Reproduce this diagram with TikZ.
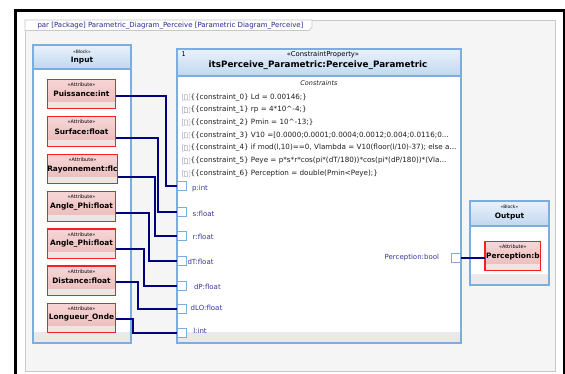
\documentclass[tikz,border=0pt]{standalone}
\usepackage{fontspec}
\setmainfont{DejaVu Sans}
\usetikzlibrary{shadings}
\definecolor{navyc}{RGB}{0,0,128}
\definecolor{portlbl}{RGB}{55,55,160}
\definecolor{blueb}{RGB}{125,172,222}
\definecolor{hdtop}{RGB}{234,242,251}
\definecolor{hdbot}{RGB}{192,215,240}
\definecolor{attrred}{RGB}{250,30,30}
\definecolor{attrtop}{RGB}{247,214,214}
\definecolor{attrbot}{RGB}{234,184,184}
\definecolor{attrband}{RGB}{238,228,228}
\definecolor{framebg}{RGB}{245,245,245}
\definecolor{frameln}{RGB}{200,200,200}
\definecolor{bodyshade}{RGB}{232,232,232}
\definecolor{icongray}{RGB}{175,175,175}
\definecolor{tabtext}{RGB}{40,40,150}
\definecolor{ctext}{RGB}{30,30,30}
\tikzset{
  every node/.style={inner sep=0pt, outer sep=0pt},
  blockbody/.style={draw=blueb, line width=1.3pt, fill=white, anchor=north west,
    path picture={\shade[top color=white, bottom color=bodyshade]
      ([yshift=11pt]path picture bounding box.south west) rectangle (path picture bounding box.south east);}},
  blockhead/.style={draw=blueb, line width=1.3pt, top color=hdtop, bottom color=hdbot, anchor=north west},
  stereo/.style={font=\fontsize{4.5}{5}\selectfont, text=black},
  blockname/.style={font=\fontsize{7.4}{8}\selectfont\bfseries, text=black},
  attrbox/.style={draw=attrred, line width=1.2pt, top color=attrtop, bottom color=attrbot,
    minimum width=68.4pt, minimum height=29.5pt, anchor=north west,
    font=\fontsize{7.4}{8}\selectfont\bfseries,
    path picture={\fill[attrband] ([yshift=6.5pt]path picture bounding box.south west) rectangle (path picture bounding box.south east);},
    label={[font=\fontsize{4.9}{5}\selectfont, anchor=center, yshift=-5.2pt]north:«Attribute»}},
  portbox/.style={draw=blueb, line width=0.9pt, fill=white, minimum size=9pt, anchor=center},
  portlabel/.style={text=portlbl, font=\fontsize{7}{8}\selectfont},
  cline/.style={anchor=west, text=ctext, font=\fontsize{7.2}{9}\selectfont},
  conn/.style={draw=navyc, line width=2pt},
  docicon/.pic={
    \draw[icongray, line width=0.45pt, rounded corners=0.8pt] (1.3,-3.3) -- (0,-3.3) -- (0,3.3) -- (1.3,3.3);
    \draw[icongray, line width=0.45pt, rounded corners=0.8pt] (6.2,-3.3) -- (7.5,-3.3) -- (7.5,3.3) -- (6.2,3.3);
    \draw[icongray, line width=0.45pt] (2,2.6) -- (2,-2.6) -- (4.3,-2.6) -- (5.4,-1.5) -- (5.4,2.6) -- cycle;
  }
}
\begin{document}
\begin{tikzpicture}[x=1pt,y=-1pt]
\useasboundingbox (0,0) rectangle (565,374);
\fill[white] (0,0) rectangle (565,374);
% outer black frame
\draw[black, line width=2.5pt] (15.3,10.4) rectangle (563.8,392);
% diagram frame
\draw[frameln, fill=framebg, line width=0.8pt] (25,20) rectangle (555.7,371);
\draw[frameln, fill=white, line width=0.8pt] (25,20) -- (312,20) -- (312,27) -- (309,30.5) -- (25,30.5) -- cycle;
\node[text=tabtext, font=\fontsize{7}{8}\selectfont, anchor=west] (title) at (37.5,25.4)
  {par [Package] Parametric\_Diagram\_Perceive [Parametric Diagram\_Perceive]};

% Input block
\node[blockbody, minimum width=98pt, minimum height=298pt] (inblk) at (33,45) {};
\node[blockhead, minimum width=98pt, minimum height=24pt] (inhd) at (33,45) {};
\node[stereo] (inst) at (82,51.8) {«Block»};
\node[blockname] (inname) at (82,60.5) {Input};

% Constraint block
\node[blockbody, minimum width=284pt, minimum height=294pt] (cblk) at (177,49) {};
\node[blockhead, minimum width=284pt, minimum height=27pt] (chd) at (177,49) {};
\node[font=\fontsize{6.5}{7}\selectfont, anchor=west] (cmult) at (181.5,54.5) {1};
\node[font=\fontsize{6.8}{7}\selectfont] (cst) at (323,54.5) {«ConstraintProperty»};
\node[font=\fontsize{8.8}{10}\selectfont\bfseries] (cname) at (318,65.5) {itsPerceive\_Parametric:Perceive\_Parametric};
\node[font=\fontsize{6.5}{7}\selectfont\itshape, text=ctext] (chead) at (319,83) {Constraints};

\foreach \yy in {97.3,110,122.5,135.3,148,161,173.7} { \pic at (182.3,\yy) {docicon}; }
\node[cline] (c0) at (190.5,97.3) {\{\{constraint\_0\} Ld = 0.00146;\}};
\node[cline] (c1) at (190.5,110) {\{\{constraint\_1\} rp = 4*10\textasciicircum-4;\}};
\node[cline] (c2) at (190.5,122.5) {\{\{constraint\_2\} Pmin = 10\textasciicircum-13;\}};
\node[cline] (c3) at (190.5,135.3) {\{\{constraint\_3\} V10 =[0.0000;0.0001;0.0004;0.0012;0.004;0.0116;0...};
\node[cline] (c4) at (190.5,148) {\{\{constraint\_4\} if mod(l,10)==0, Vlambda = V10(floor(l/10)-37); else a...};
\node[cline] (c5) at (190.5,161) {\{\{constraint\_5\} Peye = p*s*r*cos(pi*(dT/180))*cos(pi*(dP/180))*(Vla...};
\node[cline] (c6) at (190.5,173.7) {\{\{constraint\_6\} Perception = double(Pmin<Peye);\}};

% ports
\node[portbox] (pp) at (181.5,186) {};
\node[portbox] (ps) at (181.5,212) {};
\node[portbox] (pr) at (181.5,235.7) {};
\node[portbox] (pdT) at (181.5,261) {};
\node[portbox] (pdP) at (181.5,286) {};
\node[portbox] (pdLO) at (181.5,308.7) {};
\node[portbox] (pl) at (181.5,333) {};
\node[portbox] (pout) at (456.2,258) {};
\node[portlabel, anchor=west] (lp) at (192,188.3) {p:int};
\node[portlabel, anchor=west] (ls) at (192.7,213.5) {s:float};
\node[portlabel, anchor=west] (lr) at (192.7,237) {r:float};
\node[portlabel, anchor=west] (ldT) at (187.5,262) {dT:float};
\node[portlabel, anchor=west] (ldP) at (194,287) {dP:float};
\node[portlabel, anchor=west] (ldLO) at (190.7,308) {dLO:float};
\node[portlabel, anchor=west] (ll) at (193.3,330.5) {l:int};
\node[portlabel, anchor=east] (lout) at (439,257.5) {Perception:bool};

% attributes of Input
\node[attrbox] (aP) at (47.3,79.3) {Puissance:int};
\node[attrbox] (aS) at (47.3,116.7) {Surface:float};
\node[attrbox] (aR) at (47.3,154.3) {Rayonnement:flc};
\node[attrbox] (aA1) at (47.3,191.7) {Angle\_Phi:float};
\node[attrbox] (aA2) at (47.3,229) {Angle\_Phi:float};
\node[attrbox] (aD) at (47.3,266) {Distance:float};
\node[attrbox] (aL) at (47.3,303.3) {Longueur\_Onde};

% Output block
\node[blockbody, minimum width=79pt, minimum height=84pt] (outblk) at (470,201) {};
\node[blockhead, minimum width=79pt, minimum height=25pt] (outhd) at (470,201) {};
\node[stereo] (outst) at (509.5,207) {«Block»};
\node[blockname] (outname) at (509.5,216.3) {Output};
\node[attrbox, minimum width=55.7pt, minimum height=29pt] (aO) at (485,241.7) {Perception:b};

% connectors
\draw[conn] (aP.east |- 0,96) -- (166,96) |- (pp.west);
\draw[conn] (aS.east |- 0,138.3) -- (158.3,138.3) |- (ps.west);
\draw[conn] (aR.east |- 0,176.7) -- (154.5,176.7) |- (pr.west);
\draw[conn] (aA1.east |- 0,213.3) -- (149.3,213.3) |- (pdT.west);
\draw[conn] (aA2.east |- 0,249.3) -- (144,249.3) |- (pdP.west);
\draw[conn] (aD.east |- 0,281.7) -- (138.3,281.7) |- (pdLO.west);
\draw[conn] (aL.east |- 0,319.3) -- (133.3,319.3) |- (pl.west);
\draw[conn] (pout.east) -- (aO.west |- pout.east);
\end{tikzpicture}
\end{document}
